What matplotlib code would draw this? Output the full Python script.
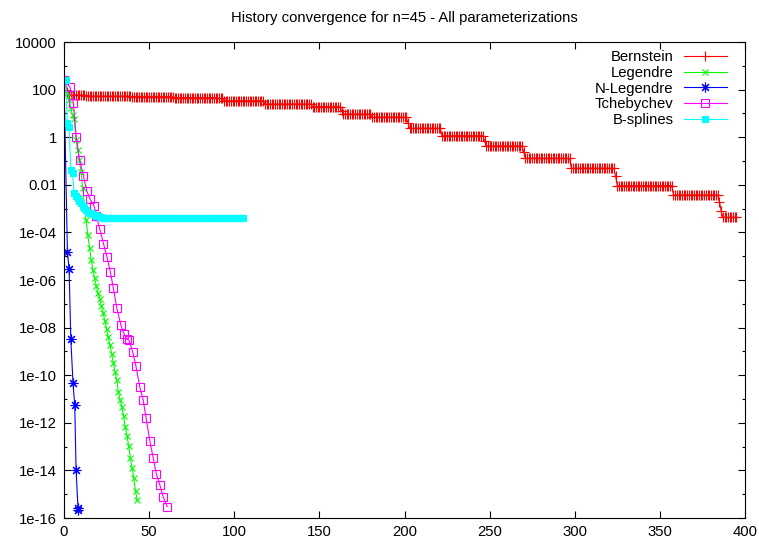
import numpy as np
import matplotlib.pyplot as plt
from matplotlib.ticker import FixedLocator, FixedFormatter, NullFormatter

plt.rcParams['font.family'] = ['Liberation Sans', 'DejaVu Sans']

# values are log10 of the error

# Bernstein: step levels and how many iterations stay on each level
bern_levels = [2.0, 1.88, 1.77, 1.72, 1.70, 1.66, 1.63, 1.53, 1.39, 1.28, 1.12, 0.97, 0.84, 0.60, 0.37,
               0.06, -0.15, -0.37, -0.62, -0.89, -1.31, -1.65, -2.04, -2.43, -2.71, -3.10, -3.37]
bern_counts = [1, 2, 10, 27, 25, 25, 4, 24, 28, 17, 1, 17, 21, 1, 19,
               25, 1, 22, 1, 27, 26, 1, 33, 27, 1, 1, 9]

leg_x = [0, 2, 3, 4, 5, 6, 7, 8, 9, 10, 11, 12, 13, 14, 15, 16, 17, 18, 19, 20, 21, 22,
         23, 24, 25, 26, 27, 28, 29, 30, 31, 32, 33, 34, 35, 36, 37, 38, 39, 40, 41, 42, 43]
leg_y = [2.40, 1.86, 1.56, 1.23, 0.93, 0.76, -0.12, -0.54, -0.96, -1.46, -2.13, -2.85, -3.48,
         -4.11, -4.66, -5.16, -5.58, -5.92, -6.25, -6.55, -6.80, -7.09, -7.39, -7.72, -8.06,
         -8.39, -8.73, -9.11, -9.49, -9.87, -10.20, -10.71, -11.04, -11.34, -11.71, -12.18,
         -12.55, -12.97, -13.48, -13.90, -14.32, -14.87, -15.24]

nleg_x = [0, 2, 3, 4, 5.3, 6.3, 7.1, 8.2, 8.5]
nleg_y = [2.40, -4.81, -5.55, -8.48, -10.34, -11.25, -13.98, -15.58, -15.66]

tcheb_x = [0, 3.5, 5.5, 7.2, 9.2, 11.4, 13.4, 15.3, 17.6, 19.0, 21.0, 23.2, 25.3, 27.2, 29.0, 31.0,
           33.4, 35.3, 36.9, 38.2, 40.4, 42.2, 44.5, 46.5, 48.2, 50.4, 52.4, 54.3, 56.3, 58.2, 60.6]
tcheb_y = [2.40, 2.11, 1.42, 0.02, -0.96, -1.64, -2.26, -2.60, -2.88, -3.30, -3.86, -4.47, -5.05,
           -5.65, -6.35, -7.17, -7.89, -8.27, -8.49, -8.52, -9.04, -9.60, -10.48, -11.04, -11.79,
           -12.75, -13.48, -14.16, -14.61, -15.10, -15.52]

bspl_x = [0, 1, 2, 3, 4, 5, 6, 7, 8, 9, 10, 11, 12, 13, 14, 15, 16, 17, 18, 19, 20, 21, 22, 23, 24]
bspl_y = [2.40, 2.40, 0.58, 0.44, -1.38, -1.52, -2.36, -2.48, -2.57, -2.68, -2.78, -2.88, -2.99,
          -3.06, -3.13, -3.17, -3.20, -3.23, -3.26, -3.29, -3.33, -3.35, -3.37, -3.39, -3.40]
bspl_tail_level = -3.41
bspl_last_iter = 105

bern_y = np.repeat(bern_levels, bern_counts)
bern_x = np.arange(len(bern_y))
bx = list(bspl_x) + list(range(bspl_x[-1] + 1, bspl_last_iter + 1))
by = list(bspl_y) + [bspl_tail_level] * (bspl_last_iter - bspl_x[-1])

fig = plt.figure(figsize=(7.59, 5.39), dpi=100)
ax = fig.add_axes([64 / 759, 21 / 539, 681 / 759, 476 / 539])

lw = 0.8
ax.plot(bern_x, 10.0 ** bern_y, color='#ff0000', lw=lw, marker='+', ms=6.5, mew=0.8, label='Bernstein')
ax.plot(leg_x, 10.0 ** np.array(leg_y), color='#00ff00', lw=lw, marker='x', ms=5, mew=0.8, label='Legendre')
ax.plot(nleg_x, 10.0 ** np.array(nleg_y), color='#0000ff', lw=lw, marker=(8, 2, 0), ms=7, mew=0.8, label='N-Legendre')
ax.plot(tcheb_x, 10.0 ** np.array(tcheb_y), color='#ff00ff', lw=lw, marker='s', ms=5.5, mfc='none', mew=0.8, label='Tchebychev')
ax.plot(bx, 10.0 ** np.array(by), color='#00ffff', lw=lw, marker='s', ms=5, mew=0.8, label='B-splines')

ax.set_yscale('log')
ax.set_xlim(0, 400)
ax.set_ylim(1e-16, 1e4)

major = [10.0 ** k for k in range(4, -17, -2)]
labels = ['10000', '100', '1', '0.01'] + ['1e-%02d' % k for k in range(4, 17, 2)]
ax.yaxis.set_major_locator(FixedLocator(major))
ax.yaxis.set_major_formatter(FixedFormatter(labels))
ax.yaxis.set_minor_locator(FixedLocator([10.0 ** k for k in range(3, -16, -2)]))
ax.yaxis.set_minor_formatter(NullFormatter())
ax.set_xticks(range(0, 401, 50))

ax.tick_params(which='both', direction='in', top=True, right=True, labelsize=10.7, width=0.8)
ax.tick_params(which='major', length=5, pad=5)
ax.tick_params(which='minor', length=2.5)
for s in ax.spines.values():
    s.set_linewidth(0.8)

fig.text(404.5 / 759, 1 - 18 / 539, 'History convergence for n=45 - All parameterizations',
         ha='center', va='center', fontsize=10.7)

ax.legend(loc='upper right', bbox_to_anchor=(1 - 18 / 681, 1 - 8 / 476), frameon=False,
          markerfirst=False, numpoints=1, fontsize=10.7, handlelength=2.9, handletextpad=0.7,
          labelspacing=0.12, borderpad=0, borderaxespad=0)

fig.savefig('out.png', dpi=100)
